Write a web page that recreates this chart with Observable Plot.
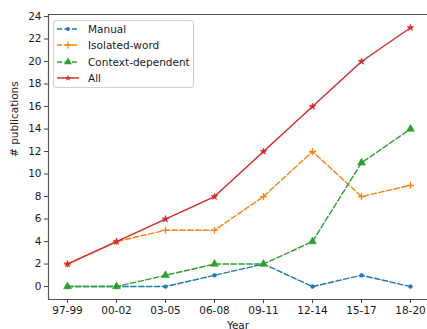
<!DOCTYPE html>
<html><head><meta charset="utf-8">
<script src="https://cdn.jsdelivr.net/npm/d3@7"></script>
<script src="https://cdn.jsdelivr.net/npm/@observablehq/plot@0.6"></script>
<style>
html,body{margin:0;padding:0;background:#fff;overflow:hidden;width:427px;height:329px}
#wrap{position:relative;width:427px;height:329px}
#legend{position:absolute;left:53px;top:20px;width:139px;height:66px;border:1px solid #d0d0d0;border-radius:3px;background:rgba(255,255,255,0.85);font-family:"DejaVu Sans",sans-serif;font-size:10.5px;color:#1a1a1a}
.row{position:absolute;left:3px;height:14px;display:flex;align-items:center}
.row svg{margin-right:9px}
</style></head><body>
<div id="wrap"><div id="chart"></div><div id="legend"></div></div>
<script>
const periods = ["97-99","00-02","03-05","06-08","09-11","12-14","15-17","18-20"];
const manual = [0,0,0,1,2,0,1,0];
const isolated = [2,4,5,5,8,12,8,9];
const context = [0,0,1,2,2,4,11,14];
const all = [2,4,6,8,12,16,20,23];
const yTicks = [0,2,4,6,8,10,12,14,16,18,20,22,24];
const seriesNames = ["Manual","Isolated-word","Context-dependent","All"];
const colors = ["#1f77b4","#ff7f0e","#2ca02c","#d62728"];

const series = [
  {name: seriesNames[0], values: manual, color: colors[0], dash: "5.5,2.4", symbol: "circle", r: 1.9, stroke: false},
  {name: seriesNames[1], values: isolated, color: colors[1], dash: "5.5,2.4", symbol: "plus", r: 2.4, stroke: true},
  {name: seriesNames[2], values: context, color: colors[2], dash: "5.5,2.4", symbol: "triangle", r: 2.9, stroke: false},
  {name: seriesNames[3], values: all, color: colors[3], dash: null, symbol: "star", r: 2.1, stroke: false}
];

const marks = [];
for (const s of series) {
  const data = periods.map((p, i) => ({p, v: s.values[i]}));
  marks.push(Plot.line(data, {x: "p", y: "v", stroke: s.color, strokeWidth: 1.4, strokeDasharray: s.dash || undefined}));
  if (s.stroke) {
    marks.push(Plot.dot(data, {x: "p", y: "v", symbol: s.symbol, r: s.r, stroke: s.color, strokeWidth: 1.3, fill: "none"}));
  } else {
    marks.push(Plot.dot(data, {x: "p", y: "v", symbol: s.symbol, r: s.r, fill: s.color, stroke: s.color, strokeWidth: 0.6}));
  }
}

const chart = Plot.plot({
  width: 427, height: 329,
  marginLeft: 48, marginRight: 0, marginTop: 14, marginBottom: 30,
  style: {fontFamily: "DejaVu Sans, sans-serif", fontSize: "10.5px", color: "#1a1a1a", background: "#fff", overflow: "hidden"},
  x: {type: "point", domain: periods, range: [47.6, 429.4], padding: 0.35, align: 0.5},
  y: {domain: [-1.15, 24.15], range: [299, 14.3]},
  marks: [
    Plot.axisX({ticks: periods, tickSize: 4, tickPadding: 3, label: null, stroke: "#444"}),
    Plot.axisY({ticks: yTicks, tickSize: 4, tickPadding: 3, label: null, stroke: "#444"}),
    Plot.text(["Year"], {frameAnchor: "bottom", dy: 29, fontSize: 10.5}),
    Plot.text(["# publications"], {frameAnchor: "left", dx: -34, rotate: -90, fontSize: 10.5}),
    ...marks,
    Plot.frame({anchor: "left", stroke: "#555", strokeWidth: 1.2}),
    Plot.frame({anchor: "top", stroke: "#555", strokeWidth: 1.2}),
    Plot.frame({anchor: "bottom", stroke: "#555", strokeWidth: 1.2})
  ]
});
document.getElementById("chart").appendChild(chart);

// legend
const lg = document.getElementById("legend");
series.forEach((s, i) => {
  const row = document.createElement("div");
  row.className = "row";
  row.style.top = (1 + i * 16.3) + "px";
  const ns = "http://www.w3.org/2000/svg";
  const svg = document.createElementNS(ns, "svg");
  svg.setAttribute("width", 22); svg.setAttribute("height", 14);
  const ln = document.createElementNS(ns, "line");
  ln.setAttribute("x1", 0); ln.setAttribute("x2", 22); ln.setAttribute("y1", 7); ln.setAttribute("y2", 7);
  ln.setAttribute("stroke", s.color); ln.setAttribute("stroke-width", 1.4);
  if (s.dash) ln.setAttribute("stroke-dasharray", "5,2.5");
  svg.appendChild(ln);
  const sym = {circle: d3.symbolCircle, plus: d3.symbolPlus, triangle: d3.symbolTriangle, star: d3.symbolStar}[s.symbol];
  const path = document.createElementNS(ns, "path");
  path.setAttribute("d", d3.symbol(sym, Math.PI * s.r * s.r)());
  path.setAttribute("transform", "translate(11,7)");
  if (s.stroke) { path.setAttribute("fill", "none"); path.setAttribute("stroke", s.color); path.setAttribute("stroke-width", 1.3); }
  else { path.setAttribute("fill", s.color); }
  svg.appendChild(path);
  row.appendChild(svg);
  const t = document.createElement("span");
  t.textContent = s.name;
  row.appendChild(t);
  lg.appendChild(row);
});
</script></body></html>
